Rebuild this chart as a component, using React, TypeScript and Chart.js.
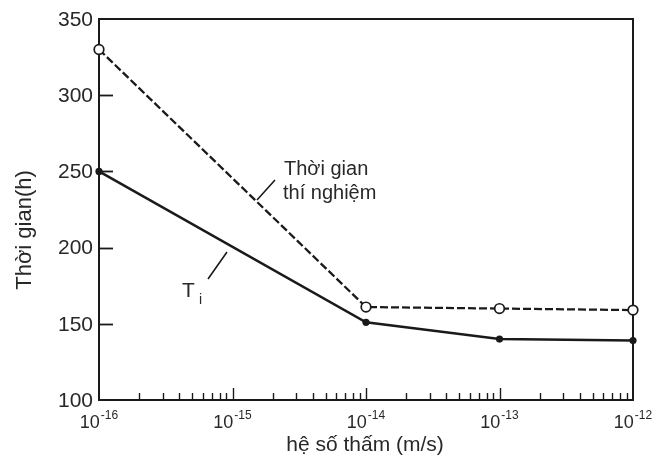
import React, { useEffect, useRef } from "react";
import { Chart, registerables } from "chart.js";

Chart.register(...registerables);

// ---- data ----
const permeability = [1e-16, 1e-14, 1e-13, 1e-12];
const testTime = [330, 161, 160, 159];
const tiTime = [250, 151, 140, 139];
const yTickValues = [350, 300, 250, 200, 150, 100];
const yInnerTicks = [300, 250, 200, 150];
const xExponents = [-16, -15, -14, -13, -12];
const xTitle = "hệ số thấm (m/s)";
const yTitle = "Thời gian(h)";
const testLabel = ["Thời gian", "thí nghiệm"];
const tiLabelMain = "T";
const tiLabelSub = "i";

const FONT = '"Liberation Sans", Arial, sans-serif';
const INK = "#1a1a1a";
const TEXT = "#272927";

const decorPlugin = {
  id: "decor",
  beforeDatasetsDraw(chart: any) {
    const ctx = chart.ctx;
    const { left, right, top, bottom } = chart.chartArea;
    const xs = chart.scales.x;
    const ys = chart.scales.y;
    ctx.save();
    ctx.strokeStyle = INK;
    ctx.lineWidth = 2;
    ctx.strokeRect(left, top, right - left, bottom - top);
    // y inner ticks
    ctx.lineWidth = 1.8;
    yInnerTicks.forEach((v) => {
      const y = Math.round(ys.getPixelForValue(v)) + 0.5;
      ctx.beginPath();
      ctx.moveTo(left, y);
      ctx.lineTo(left + 14, y);
      ctx.stroke();
    });
    // x inner ticks (major + minor)
    ctx.lineWidth = 1.4;
    for (let e = xExponents[0]; e < xExponents[xExponents.length - 1]; e++) {
      for (let m = 1; m <= 9; m++) {
        const v = m * Math.pow(10, e);
        if (m === 1 && e === xExponents[0]) continue;
        const x = Math.round(xs.getPixelForValue(v)) + 0.5;
        const len = m === 1 ? 12 : 7;
        ctx.beginPath();
        ctx.moveTo(x, bottom);
        ctx.lineTo(x, bottom - len);
        ctx.stroke();
      }
    }
    ctx.restore();
  },
  afterDraw(chart: any) {
    const ctx = chart.ctx;
    const { left } = chart.chartArea;
    const xs = chart.scales.x;
    const ys = chart.scales.y;
    ctx.save();
    ctx.fillStyle = TEXT;
    // y tick labels
    ctx.font = `21px ${FONT}`;
    ctx.textAlign = "right";
    ctx.textBaseline = "middle";
    yTickValues.forEach((v) => {
      ctx.fillText(String(v), left - 6, ys.getPixelForValue(v) + 1);
    });
    // x tick labels with superscript
    ctx.textBaseline = "alphabetic";
    ctx.textAlign = "left";
    xExponents.forEach((e) => {
      const x = xs.getPixelForValue(Math.pow(10, e));
      ctx.font = `18px ${FONT}`;
      const w1 = ctx.measureText("10").width;
      ctx.font = `12px ${FONT}`;
      const sup = "-" + String(Math.abs(e));
      const w2 = ctx.measureText(sup).width;
      const start = x - (w1 + w2 + 1) / 2;
      ctx.font = `18px ${FONT}`;
      ctx.fillText("10", start, 428);
      ctx.font = `12px ${FONT}`;
      ctx.fillText(sup, start + w1 + 1, 419);
    });
    // x title
    ctx.font = `21px ${FONT}`;
    ctx.textAlign = "center";
    ctx.fillText(xTitle, 365, 451);
    // y title
    ctx.save();
    ctx.translate(31, 230);
    ctx.rotate(-Math.PI / 2);
    ctx.font = `22px ${FONT}`;
    ctx.textAlign = "center";
    ctx.fillText(yTitle, 0, 0);
    ctx.restore();
    // annotations
    ctx.textAlign = "left";
    ctx.font = `20px ${FONT}`;
    ctx.fillText(testLabel[0], 284, 175);
    ctx.fillText(testLabel[1], 283, 199);
    ctx.font = `21px ${FONT}`;
    ctx.fillText(tiLabelMain, 182, 297);
    ctx.font = `14px ${FONT}`;
    ctx.fillText(tiLabelSub, 199, 304);
    ctx.strokeStyle = INK;
    ctx.lineWidth = 1.6;
    ctx.beginPath();
    ctx.moveTo(275, 180);
    ctx.lineTo(257, 200);
    ctx.moveTo(227, 252);
    ctx.lineTo(208, 279);
    ctx.stroke();
    ctx.restore();
  },
};

export default function App() {
  const ref = useRef<HTMLCanvasElement>(null);
  useEffect(() => {
    if (!ref.current) return;
    const chart = new Chart(ref.current, {
      type: "line",
      data: {
        datasets: [
          {
            label: "Thời gian thí nghiệm",
            data: permeability.map((x, i) => ({ x, y: testTime[i] })),
            borderColor: INK,
            borderWidth: 2.3,
            borderDash: [8, 3],
            pointStyle: "circle",
            pointRadius: 4.8,
            pointBorderWidth: 1.7,
            pointBackgroundColor: "#ffffff",
            pointBorderColor: INK,
            clip: false as any,
            tension: 0,
          },
          {
            label: "Ti",
            data: permeability.map((x, i) => ({ x, y: tiTime[i] })),
            borderColor: INK,
            borderWidth: 2.5,
            pointRadius: 3.6,
            pointBorderWidth: 0,
            pointBackgroundColor: INK,
            pointBorderColor: INK,
            clip: false as any,
            tension: 0,
          },
        ],
      },
      options: {
        responsive: false,
        animation: false,
        devicePixelRatio: 1,
        layout: { padding: { top: 19, right: 24, left: 0, bottom: 0 } },
        plugins: { legend: { display: false }, tooltip: { enabled: false } },
        scales: {
          x: {
            type: "logarithmic",
            min: 1e-16,
            max: 1e-12,
            grid: { display: false },
            border: { display: false },
            ticks: { display: false },
            afterBuildTicks: (s: any) => {
              s.ticks = xExponents.map((e) => ({ value: Math.pow(10, e) }));
            },
            afterFit: (s: any) => {
              s.height = 57;
            },
          },
          y: {
            type: "linear",
            min: 100,
            max: 350,
            grid: { display: false },
            border: { display: false },
            ticks: { display: false },
            afterFit: (s: any) => {
              s.width = 99;
            },
          },
        },
      },
      plugins: [decorPlugin],
    });
    return () => chart.destroy();
  }, []);
  return (
    <div style={{ position: "absolute", left: 0, top: 0, width: 657, height: 457, background: "#fff" }}>
      <canvas ref={ref} width={657} height={457} />
    </div>
  );
}
